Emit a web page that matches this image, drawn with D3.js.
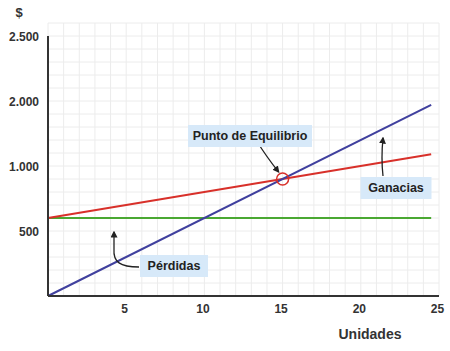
<!DOCTYPE html>
<html>
<head>
<meta charset="utf-8">
<script src="https://cdn.jsdelivr.net/npm/d3@7/dist/d3.min.js"></script>
<style>
  body { margin: 0; background: #fff; }
  text { font-family: "Liberation Sans", Arial, sans-serif; fill: #333; }
</style>
</head>
<body>
<div id="chart"></div>
<script>
// Dades llegides de la imatge
const unidades = [0, 24.5];
const ingresos = [0, 1470];       // línia blava
const costos = [600, 1090];       // línia vermella
const fijos = [600, 600];         // línia verda
const equilibrio = { u: 15, v: 900 };

const xTicks = [5, 10, 15, 20, 25];
const yTicks = [500, 1000, 1500, 2000];
const yTickLabels = ["500", "1.000", "2.000", "2.500"];

const width = 450, height = 351;

const x = d3.scaleLinear().domain([0, 25]).range([48, 439]);
const y = d3.scaleLinear().domain([0, 2100]).range([296, 23]);

const svg = d3.select("#chart").append("svg")
  .attr("width", width)
  .attr("height", height);

// Marcador de fletxa
svg.append("defs").append("marker")
  .attr("id", "fletxa")
  .attr("viewBox", "0 0 10 10")
  .attr("refX", 8).attr("refY", 5)
  .attr("markerWidth", 7).attr("markerHeight", 7)
  .attr("markerUnits", "userSpaceOnUse")
  .attr("orient", "auto")
  .append("path")
  .attr("d", "M0,0L10,5L0,10Z")
  .attr("fill", "#222");

// Graella
const grid = svg.append("g");
grid.selectAll("line.v")
  .data(d3.range(0, 26))
  .join("line")
  .attr("x1", d => x(d)).attr("x2", d => x(d))
  .attr("y1", y(0)).attr("y2", y(2100))
  .attr("stroke", "#ececec");
grid.selectAll("line.h")
  .data(d3.range(0, 2101, 100))
  .join("line")
  .attr("x1", x(0)).attr("x2", x(25))
  .attr("y1", d => y(d)).attr("y2", d => y(d))
  .attr("stroke", "#ececec");

// Línies de dades
const linia = d3.line().x(d => x(d[0])).y(d => y(d[1]));
const series = [
  { vals: fijos, color: "#4aa832" },
  { vals: costos, color: "#d8302a" },
  { vals: ingresos, color: "#40409e" }
];
series.forEach(s => {
  svg.append("path")
    .datum(unidades.map((u, i) => [u, s.vals[i]]))
    .attr("fill", "none")
    .attr("stroke", s.color)
    .attr("stroke-width", 2)
    .attr("d", linia);
});

// Eixos
svg.append("line")
  .attr("x1", x(0)).attr("x2", x(0))
  .attr("y1", y(0)).attr("y2", y(2000))
  .attr("stroke", "#333").attr("stroke-width", 2);
svg.append("line")
  .attr("x1", x(0)).attr("x2", x(25))
  .attr("y1", y(0)).attr("y2", y(0))
  .attr("stroke", "#333").attr("stroke-width", 2);

const yAxis = svg.append("g")
  .attr("transform", `translate(${x(0) - 9},0)`)
  .call(d3.axisLeft(y).tickValues(yTicks).tickSize(0)
    .tickFormat((d, i) => yTickLabels[i]));
yAxis.select(".domain").remove();
yAxis.selectAll("text")
  .attr("x", 0)
  .attr("dy", "0.35em")
  .style("font-size", "12px").style("font-weight", "bold")
  .style("fill", "#333");

const xAxis = svg.append("g")
  .attr("transform", `translate(-2,${y(0) + 8})`)
  .call(d3.axisBottom(x).tickValues(xTicks).tickSize(0));
xAxis.select(".domain").remove();
xAxis.selectAll("text")
  .attr("y", 0)
  .attr("dy", "0.71em")
  .style("font-size", "12px").style("font-weight", "bold")
  .style("fill", "#333");

// Títols d'eixos
svg.append("text")
  .attr("x", 19).attr("y", 17)
  .attr("text-anchor", "middle")
  .style("font-size", "13px").style("font-weight", "bold")
  .text("$");
svg.append("text")
  .attr("x", 370).attr("y", 339)
  .attr("text-anchor", "middle")
  .style("font-size", "14px").style("font-weight", "bold")
  .text("Unidades");

// Punt d'equilibri
svg.append("circle")
  .attr("cx", x(equilibrio.u)).attr("cy", y(equilibrio.v))
  .attr("r", 6)
  .attr("fill", "none")
  .attr("stroke", "#d8302a")
  .attr("stroke-width", 1.5);

// Anotacions
function etiqueta(cx, cy, w, text) {
  svg.append("rect")
    .attr("x", cx - w / 2).attr("y", cy - 11)
    .attr("width", w).attr("height", 22)
    .attr("fill", "#d7e9f9");
  svg.append("text")
    .attr("x", cx).attr("y", cy + 4)
    .attr("text-anchor", "middle")
    .style("font-size", "12.5px").style("font-weight", "bold")
    .style("fill", "#222")
    .text(text);
}

function fletxa(d) {
  svg.append("path")
    .attr("d", d)
    .attr("fill", "none")
    .attr("stroke", "#222")
    .attr("stroke-width", 1.3)
    .attr("marker-end", "url(#fletxa)");
}

fletxa(`M258,143 Q266,156 ${x(equilibrio.u) - 4},${y(equilibrio.v) - 7}`);
etiqueta(250, 136, 124, "Punto de Equilibrio");

fletxa("M383,176 Q381,158 383,138");
etiqueta(396, 188, 71, "Ganacias");

fletxa("M139,267 C120,267 113,262 114,249 L114,232");
etiqueta(174, 266, 68, "Pérdidas");
</script>
</body>
</html>
